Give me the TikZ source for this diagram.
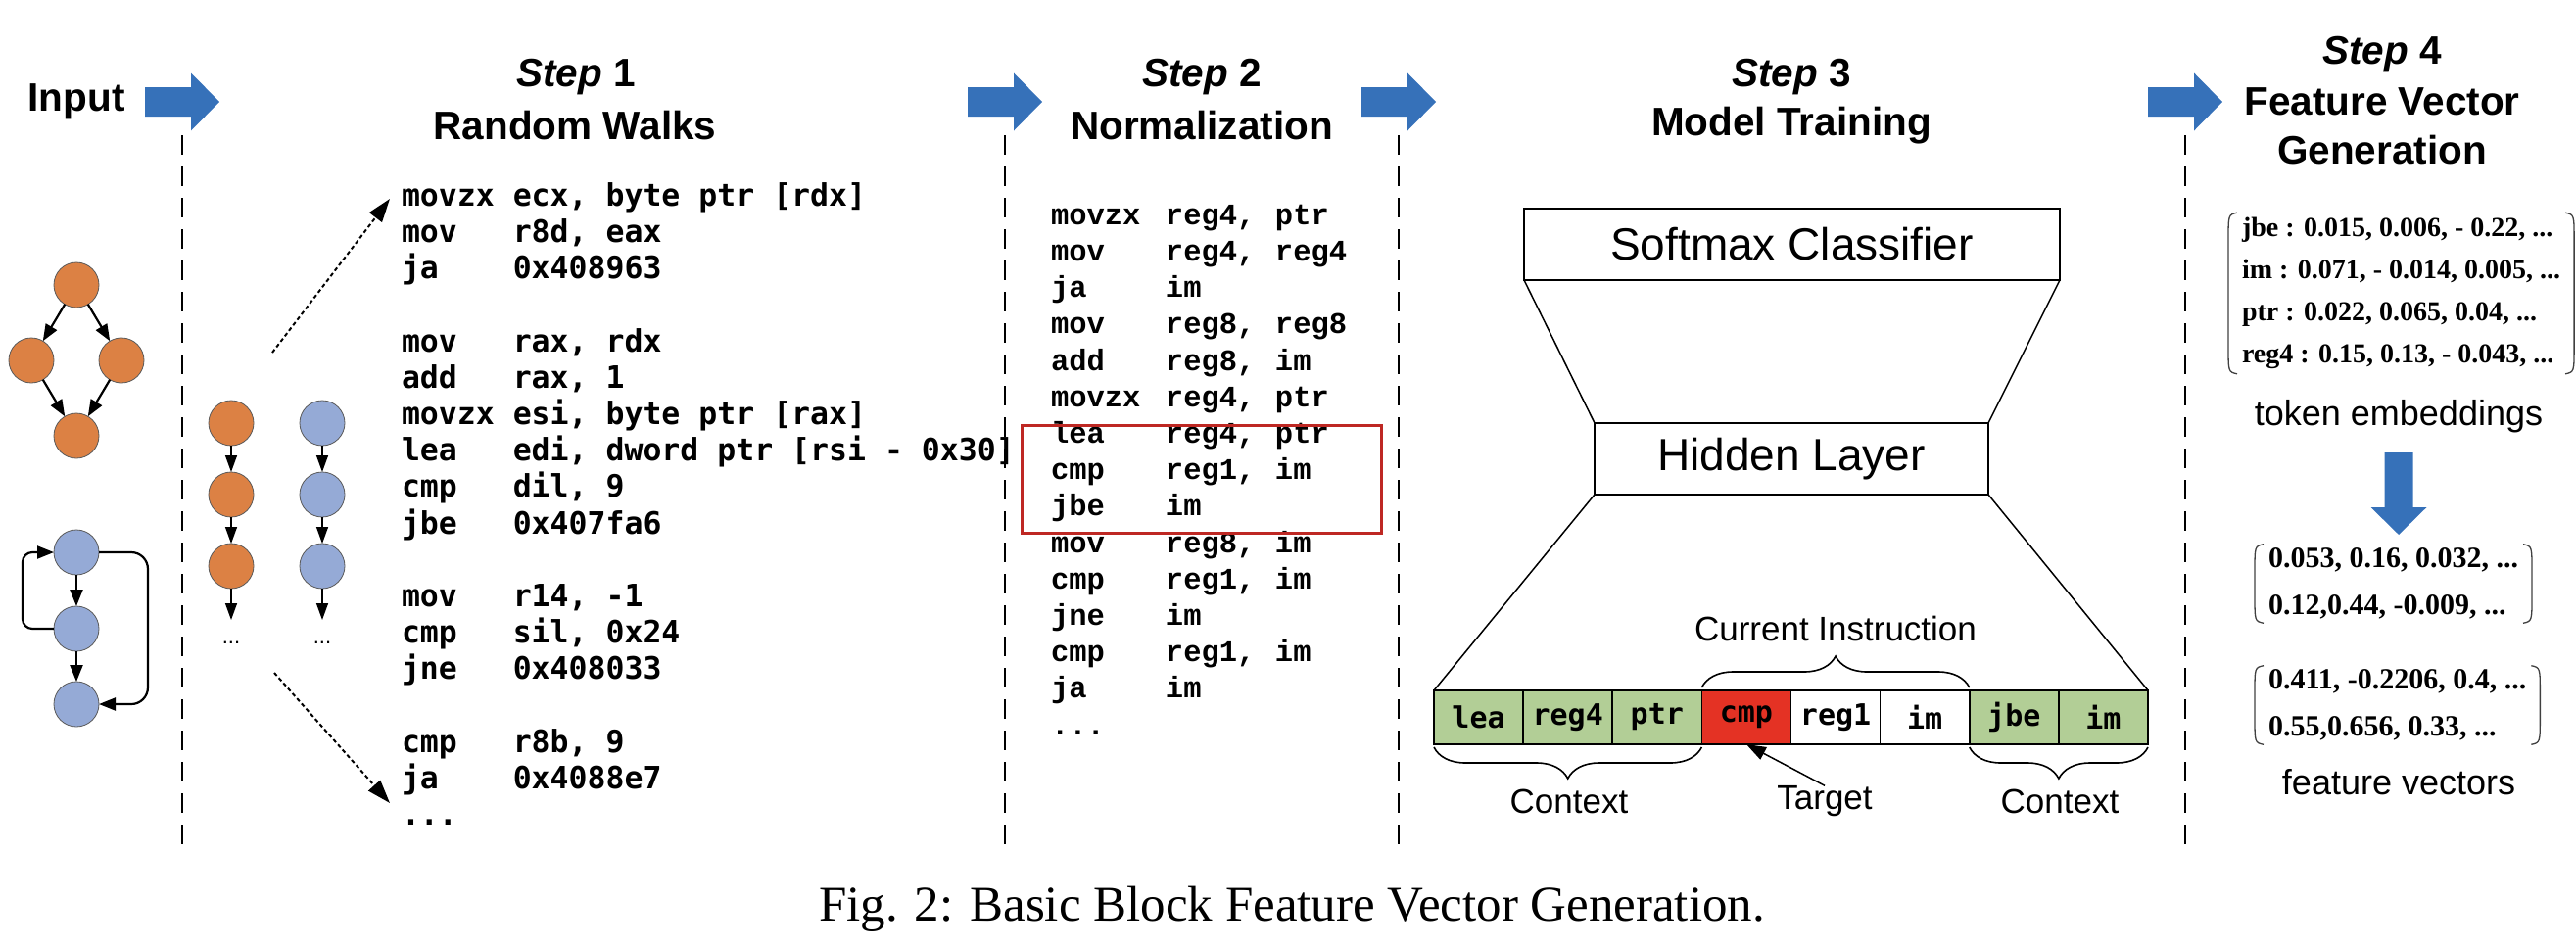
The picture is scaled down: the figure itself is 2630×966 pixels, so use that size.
\documentclass[tikz,border=0pt]{standalone}
\usepackage{fontspec}
\setmainfont{Liberation Serif}
\setsansfont{Liberation Sans}
\newfontfamily\headfont{Liberation Sans}
\newfontfamily\codefont{DejaVu Sans Mono}
\newfontfamily\normfont{Liberation Mono}
\newfontfamily\numfont{Liberation Serif}
\usetikzlibrary{arrows.meta,decorations.pathreplacing,calc}

\definecolor{arrowblue}{RGB}{54,113,185}
\definecolor{nodeorange}{RGB}{220,129,68}
\definecolor{nodeblue}{RGB}{149,170,214}
\definecolor{ctxgreen}{RGB}{178,206,150}
\definecolor{tgtred}{RGB}{228,50,36}
\definecolor{boxred}{RGB}{190,40,35}
\definecolor{rimgray}{RGB}{90,90,90}

% mnemonic padded to six monospace columns
\newcommand\asmop[2]{\makebox[6\fontcharwd\font 48][l]{#1}#2}
% normalised instruction in three fixed columns
\newcommand\normline[3]{\makebox[117pt][l]{#1}\makebox[112pt][l]{#2}#3}

\tikzset{
  every node/.style={inner sep=0pt, outer sep=0pt},
  sep/.style={line width=2.5pt, dash pattern=on 20pt off 12pt},
  head/.style={font=\headfont\bfseries\fontsize{40.5}{48}\selectfont},
  code/.style={font=\codefont\bfseries\fontsize{31.5}{37}\selectfont, anchor=mid west},
  ncode/.style={font=\normfont\bfseries\fontsize{30.5}{37}\selectfont, anchor=mid west},
  onode/.style={circle, minimum size=46pt, fill=nodeorange, draw=rimgray, line width=0.8pt},
  bnode/.style={circle, minimum size=46pt, fill=nodeblue, draw=rimgray, line width=0.8pt},
  garrow/.style={line width=2.2pt, -{Triangle[length=17pt,width=13pt]}},
  carrow/.style={line width=1.5pt, -{Triangle[length=17pt,width=12pt]}},
  dotarrow/.style={line width=2pt, dash pattern=on 4pt off 3pt, -{Triangle[length=24pt,width=16pt]}},
  layerbox/.style={draw, line width=2pt, font=\headfont\fontsize{46}{54}\selectfont},
  trap/.style={line width=1.5pt},
  cell/.style={draw, line width=1.6pt, minimum width=91.125pt, minimum height=55pt,
    font=\codefont\bfseries\fontsize{30}{36}\selectfont},
  lbl/.style={font=\headfont\fontsize{35}{42}\selectfont},
  curly/.style={line width=1.6pt, decorate, decoration={brace, amplitude=32pt, aspect=0.5}},
  mat/.style={align=left, anchor=west, inner xsep=14pt},
  paren/.style={line width=1.3pt, draw=black!75},
  rblock/.pic={\fill[arrowblue] (-38,-15) -- (9,-15) -- (9,-29.5) -- (38,0) -- (9,29.5) -- (9,15) -- (-38,15) -- cycle;},
  dblock/.pic={\fill[arrowblue] (-14.5,0) -- (14.5,0) -- (14.5,56) -- (28.5,56) -- (0,84) -- (-28.5,56) -- (-14.5,56) -- cycle;}
}

% round brackets around a node
\newcommand\bracketnode[1]{%
  \draw[paren] ([xshift=9pt]#1.north west) .. controls ([yshift=-2pt]#1.north west) .. ([yshift=-28pt]#1.north west)
     -- ([yshift=28pt]#1.south west) .. controls ([yshift=2pt]#1.south west) .. ([xshift=9pt]#1.south west);
  \draw[paren] ([xshift=-9pt]#1.north east) .. controls ([yshift=-2pt]#1.north east) .. ([yshift=-28pt]#1.north east)
     -- ([yshift=28pt]#1.south east) .. controls ([yshift=2pt]#1.south east) .. ([xshift=-9pt]#1.south east);}

\begin{document}
\begin{tikzpicture}[x=1pt,y=-1pt]
\useasboundingbox (0,0) rectangle (2630,966);

% stage separators and block arrows
\foreach \x in {186,1026,1428,2231} {
  \draw[sep] (\x,138) -- (\x,874);
  \pic at (\x,104) {rblock};
}

% headings
\node[head] (hin) at (78,104) {Input};
\node[head] (h1a) at (588,79) {{\itshape Step} 1};
\node[head] (h1b) at (587,128) {Random Walks};
\node[head] (h2a) at (1227,79) {{\itshape Step} 2};
\node[head] (h2b) at (1227,128) {Normalization};
\node[head] (h3a) at (1829,79) {{\itshape Step} 3};
\node[head] (h3b) at (1829,128) {Model Training};
\node[head] (h4a) at (2432,56) {{\itshape Step} 4};
\node[head] (h4b) at (2432,104) {Feature Vector};
\node[head] (h4c) at (2432,153) {Generation};

% input control-flow graphs
\node[onode] (d1) at (78,291) {};
\node[onode] (d2) at (32,368) {};
\node[onode] (d3) at (124,368) {};
\node[onode] (d4) at (78,445) {};
\draw[garrow] (d1) -- (d2);
\draw[garrow] (d1) -- (d3);
\draw[garrow] (d2) -- (d4);
\draw[garrow] (d3) -- (d4);

\node[bnode] (b1) at (78,564) {};
\node[bnode] (b2) at (78,642) {};
\node[bnode] (b3) at (78,719) {};
\draw[garrow] (b1) -- (b2);
\draw[garrow] (b2) -- (b3);
\draw[garrow, rounded corners=10pt] (b2.west) -- ++(-32,0) |- (b1.west);
\draw[garrow, rounded corners=17pt] (b1.east) -- ++(50,0) |- (b3.east);

% sampled walks
\node[onode] (o1) at (236,432) {};
\node[onode] (o2) at (236,505) {};
\node[onode] (o3) at (236,578) {};
\node[bnode] (w1) at (329,432) {};
\node[bnode] (w2) at (329,505) {};
\node[bnode] (w3) at (329,578) {};
\coordinate (oend) at (236,633);
\coordinate (wend) at (329,633);
\draw[carrow] (o1) -- (o2);
\draw[carrow] (o2) -- (o3);
\draw[carrow] (o3) -- (oend);
\draw[carrow] (w1) -- (w2);
\draw[carrow] (w2) -- (w3);
\draw[carrow] (w3) -- (wend);
\node[font=\headfont\fontsize{22}{26}\selectfont] (odots) at (236,656) {...};
\node[font=\headfont\fontsize{22}{26}\selectfont] (wdots) at (329,656) {...};

\coordinate (upfrom) at (278,360);
\coordinate (upto) at (398,203);
\coordinate (downfrom) at (280,687);
\coordinate (downto) at (398,820);
\draw[dotarrow] (upfrom) -- (upto);
\draw[dotarrow] (downfrom) -- (downto);

% raw instructions
\node[code] (r0) at (410,208.0) {\asmop{movzx}{ecx, byte ptr [rdx]}};
\node[code] (r1) at (410,245.2) {\asmop{mov}{r8d, eax}};
\node[code] (r2) at (410,282.4) {\asmop{ja}{0x408963}};
\node[code] (r4) at (410,356.8) {\asmop{mov}{rax, rdx}};
\node[code] (r5) at (410,394.0) {\asmop{add}{rax, 1}};
\node[code] (r6) at (410,431.2) {\asmop{movzx}{esi, byte ptr [rax]}};
\node[code] (r7) at (410,468.4) {\asmop{lea}{edi, dword ptr [rsi - 0x30]}};
\node[code] (r8) at (410,505.6) {\asmop{cmp}{dil, 9}};
\node[code] (r9) at (410,542.8) {\asmop{jbe}{0x407fa6}};
\node[code] (r11) at (410,617.2) {\asmop{mov}{r14, -1}};
\node[code] (r12) at (410,654.4) {\asmop{cmp}{sil, 0x24}};
\node[code] (r13) at (410,691.6) {\asmop{jne}{0x408033}};
\node[code] (r15) at (410,766.0) {\asmop{cmp}{r8b, 9}};
\node[code] (r16) at (410,803.2) {\asmop{ja}{0x4088e7}};
\node[code] (r17) at (410,840.4) {...};

% normalised instructions
\node[ncode] (n0) at (1073,227.0) {\normline{movzx}{reg4,}{ptr}};
\node[ncode] (n1) at (1073,264.2) {\normline{mov}{reg4,}{reg4}};
\node[ncode] (n2) at (1073,301.4) {\normline{ja}{im}{}};
\node[ncode] (n3) at (1073,338.6) {\normline{mov}{reg8,}{reg8}};
\node[ncode] (n4) at (1073,375.8) {\normline{add}{reg8,}{im}};
\node[ncode] (n5) at (1073,413.0) {\normline{movzx}{reg4,}{ptr}};
\node[ncode] (n6) at (1073,450.2) {\normline{lea}{reg4,}{ptr}};
\node[ncode] (n7) at (1073,487.4) {\normline{cmp}{reg1,}{im}};
\node[ncode] (n8) at (1073,524.6) {\normline{jbe}{im}{}};
\node[ncode] (n9) at (1073,561.8) {\normline{mov}{reg8,}{im}};
\node[ncode] (n10) at (1073,599.0) {\normline{cmp}{reg1,}{im}};
\node[ncode] (n11) at (1073,636.2) {\normline{jne}{im}{}};
\node[ncode] (n12) at (1073,673.4) {\normline{cmp}{reg1,}{im}};
\node[ncode] (n13) at (1073,710.6) {\normline{ja}{im}{}};
\node[ncode] (n14) at (1073,747.8) {...};
\node[draw=boxred, line width=3pt, minimum width=367pt, minimum height=110pt] (win) at (1226.5,489) {};

% model
\node[layerbox, minimum width=547pt, minimum height=73pt] (soft) at (1829.5,249.5) {Softmax Classifier};
\node[layerbox, minimum width=402pt, minimum height=73pt] (hid) at (1829,468.5) {Hidden Layer};
\foreach \i/\t/\f in {1/lea/ctxgreen, 2/reg4/ctxgreen, 3/ptr/ctxgreen, 4/cmp/tgtred,
                      5/reg1/white, 6/im/white, 7/jbe/ctxgreen, 8/im/ctxgreen}
  \node[cell, fill=\f] (c\i) at ({1464+91.125*(\i-0.5)},732.5) {\t};
\draw[trap] (soft.south west) -- (hid.north west);
\draw[trap] (soft.south east) -- (hid.north east);
\draw[trap] (hid.south west) -- (c1.north west);
\draw[trap] (hid.south east) -- (c8.north east);

\draw[curly] ([yshift=3pt]c4.north west) -- ([yshift=3pt]c6.north east);
\draw[curly] ([yshift=-3pt]c3.south east) -- ([yshift=-3pt]c1.south west);
\draw[curly] ([yshift=-3pt]c8.south east) -- ([yshift=-3pt]c7.south west);
\node[lbl] (cur) at (1874,642) {Current Instruction};
\node[lbl] (ctxl) at (1602,818) {Context};
\node[lbl] (ctxr) at (2103,818) {Context};
\node[lbl] (tgt) at (1863,818) {Target};
\draw[line width=1.5pt, -{Triangle[length=20pt,width=14pt]}] (tgt.north) -- (c4.south);

% embeddings and feature vectors
\node[mat, font=\numfont\bfseries\fontsize{28}{43}\selectfont, inner ysep=5pt] (emb) at (2275,299.5)
  {jbe : 0.015, 0.006, - 0.22, ...\\ im : 0.071, - 0.014, 0.005, ...\\ ptr : 0.022, 0.065, 0.04, ...\\ reg4 : 0.15, 0.13, - 0.043, ...};
\bracketnode{emb}
\node[lbl, font=\headfont\fontsize{36}{42}\selectfont] (embl) at (2449,425) {token embeddings};
\pic at (2449,462) {dblock};
\node[mat, font=\numfont\bfseries\fontsize{30}{48}\selectfont, inner ysep=4pt] (fv1) at (2302,596)
  {0.053, 0.16, 0.032, ...\\ 0.12,0.44, -0.009, ...};
\bracketnode{fv1}
\node[mat, font=\numfont\bfseries\fontsize{30}{48}\selectfont, inner ysep=4pt] (fv2) at (2302,720)
  {0.411, -0.2206, 0.4, ...\\ 0.55,0.656, 0.33, ...};
\bracketnode{fv2}
\node[lbl, font=\headfont\fontsize{36}{42}\selectfont] (fvl) at (2449,799) {feature vectors};

% caption
\node[font=\numfont\fontsize{51}{60}\selectfont] (cap) at (1319,928) {Fig. 2: Basic Block Feature Vector Generation.};
\end{tikzpicture}
\end{document}
